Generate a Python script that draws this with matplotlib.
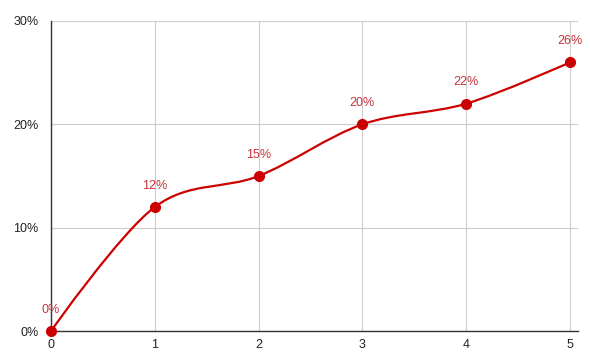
import numpy as np
import matplotlib; matplotlib.use("Agg"); import matplotlib.pyplot as plt
from matplotlib.path import Path
from matplotlib.patches import PathPatch

xs = [0, 1, 2, 3, 4, 5]
vals = [0.00, 0.12, 0.15, 0.20, 0.22, 0.26]
labels = ["0%", "12%", "15%", "20%", "22%", "26%"]
yticks = [0.0, 0.1, 0.2, 0.3]
ytick_labels = ["0%", "10%", "20%", "30%"]

plt.rcParams["font.family"] = ["Liberation Sans", "DejaVu Sans"]
red = "#cc0000"

fig = plt.figure(figsize=(5.9, 3.64), dpi=100)
ax = fig.add_axes([51/590, 33/364, 526.5/590, 310/364])

# smooth curve through the points (cubic bezier, catmull-rom style tangents)
p = np.column_stack([xs, vals]).astype(float)
n = len(p)
tang = np.zeros_like(p)
for i in range(1, n - 1):
    tang[i] = (p[i + 1] - p[i - 1]) / 2
verts = [tuple(p[0])]; codes = [Path.MOVETO]
for i in range(n - 1):
    c1 = p[i] + tang[i] / 3
    c2 = p[i + 1] - tang[i + 1] / 3
    verts += [tuple(c1), tuple(c2), tuple(p[i + 1])]
    codes += [Path.CURVE4] * 3
ax.add_patch(PathPatch(Path(verts, codes), fill=False, edgecolor=red, lw=1.6,
                       zorder=3, clip_on=False))
ax.plot(xs, vals, "o", color=red, ms=7, zorder=4, clip_on=False)
for x, v, t in zip(xs, vals, labels):
    ax.annotate(t, (x, v), xytext=(0, 11), textcoords="offset points",
                ha="center", va="bottom", color="#c8323a", fontsize=9)

ax.set_xlim(0, 5 * 526.5 / 519)
ax.set_ylim(0, 0.30)
ax.set_xticks(xs)
ax.set_xticklabels([str(x) for x in xs])
ax.set_yticks(yticks)
ax.set_yticklabels(ytick_labels)
ax.grid(True, color="#cccccc", lw=0.8)
ax.set_axisbelow(True)
ax.tick_params(length=0, labelsize=9, colors="#222222")
ax.tick_params(axis="y", pad=9)
ax.tick_params(axis="x", pad=6)
for s in ["top", "right"]:
    ax.spines[s].set_visible(False)
for s in ["left", "bottom"]:
    ax.spines[s].set_color("#333333")
    ax.spines[s].set_linewidth(1)
    ax.spines[s].set_zorder(2.5)

fig.savefig("out.png", dpi=100)
